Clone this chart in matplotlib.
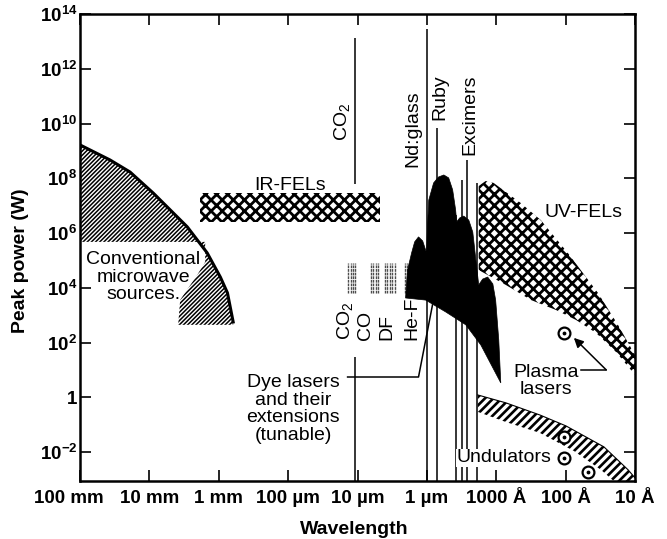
import numpy as np
import matplotlib
matplotlib.use("Agg")
import matplotlib.pyplot as plt
import matplotlib.transforms as mtransforms

plt.rcParams['font.family'] = ['Liberation Sans', 'DejaVu Sans']
plt.rcParams['mathtext.fontset'] = 'custom'
plt.rcParams['mathtext.rm'] = 'Liberation Sans'
plt.rcParams['mathtext.bf'] = 'Liberation Sans:bold'
plt.rcParams['hatch.color'] = 'black'

# axes
wl_ticks = [1e-1, 1e-2, 1e-3, 1e-4, 1e-5, 1e-6, 1e-7, 1e-8, 1e-9]
wl_labels = ['100 mm', '10 mm', '1 mm', '100 \u00b5m', '10 \u00b5m', '1 \u00b5m',
             '1000 \u00c5', '100 \u00c5', '10 \u00c5']
p_ticks = [1e-2, 1, 1e2, 1e4, 1e6, 1e8, 1e10, 1e12, 1e14]
p_labels = [r'$\mathbf{10^{-2}}$', '1', r'$\mathbf{10^{2}}$', r'$\mathbf{10^{4}}$',
            r'$\mathbf{10^{6}}$', r'$\mathbf{10^{8}}$', r'$\mathbf{10^{10}}$',
            r'$\mathbf{10^{12}}$', r'$\mathbf{10^{14}}$']
wl_lim = (1e-1, 1e-9)
p_lim = (8.7e-4, 1e14)

# conventional microwave sources (wavelength m, power W)
mw_curve_wl = [1e-1, 3.7e-2, 1.9e-2, 8.8e-3, 2.85e-3, 1.47e-3, 9.5e-4, 7.5e-4, 6.2e-4]
mw_curve_p = [1.66e9, 4.7e8, 1.7e8, 2.9e7, 1.7e6, 1.9e5, 2.5e4, 6.6e3, 5.7e2]
mw_inner_wl = [6.2e-4, 3.85e-3, 3.6e-3, 2.04e-3, 1.57e-3, 1.57e-3, 1e-1]
mw_inner_p = [4.5e2, 4.5e2, 3.65e3, 3.0e4, 8.9e4, 4.8e5, 4.8e5]

# IR free electron lasers
ir_wl = [1.85e-3, 4.8e-6]
ir_p = [2.6e6, 2.9e7]

# dye lasers envelope
dye_wl = [2.03e-6, 1.90e-6, 1.66e-6, 1.50e-6, 1.32e-6, 1.15e-6, 1.01e-6, 9.8e-7,
          9.4e-7, 8.0e-7, 6.8e-7, 5.7e-7, 4.85e-7, 4.25e-7, 3.85e-7, 3.72e-7,
          3.36e-7, 2.94e-7, 2.49e-7, 2.18e-7, 1.98e-7, 1.79e-7, 1.57e-7, 1.33e-7,
          1.12e-7, 1.02e-7, 9.2e-8, 8.6e-8, 1.67e-7, 2.75e-7, 5.36e-7, 1.04e-6]
dye_p = [4.3e3, 4.5e4, 1.9e5, 4.8e5, 7.3e5, 5.2e5, 1.9e5, 1.7e6,
         1.6e7, 6.8e7, 1.12e8, 1.33e8, 1.04e8, 3.8e7, 7.0e6, 2.6e6,
         3.6e6, 4.2e6, 3.0e6, 1.1e6, 1.24e5, 1.29e4, 2.1e4, 2.5e4,
         1.4e4, 3.6e3, 1.26e2, 3.4, 83, 4.5e2, 1.33e3, 3.6e3]

# UV free electron lasers
uv_wl = [1.79e-7, 1.42e-7, 1.09e-7, 7.3e-8, 4.43e-8, 2.28e-8, 9.3e-9, 3.42e-9, 1.76e-9,
         1e-9, 1e-9, 1.88e-9, 3.66e-9, 7.1e-9, 1.38e-8, 3.18e-8, 7.3e-8, 1.79e-7]
uv_p = [5.3e7, 8.0e7, 6.8e7, 3.2e7, 1.26e7, 3.0e6, 1.9e5, 6.6e3, 4.5e2,
        36, 6.7, 46, 2.3e2, 6.8e2, 1.57e3, 3.65e3, 1.29e4, 4.5e4]

# undulators
und_wl = [1.85e-7, 7.3e-8, 2.35e-8, 9.9e-9, 2.8e-9, 1.26e-9, 1e-9,
          1e-9, 2.0e-9, 3.1e-9, 7.6e-9, 2.35e-8, 7.3e-8, 1.85e-7]
und_p = [1.24, 0.64, 0.23, 0.092, 0.0157, 2.3e-3, 1.16e-3,
         8.7e-4, 8.7e-4, 2.3e-3, 0.0112, 0.051, 0.128, 0.30]

# plasma lasers (circled points)
plasma_wl = [1.06e-8, 1.06e-8, 1.06e-8, 4.8e-9]
plasma_p = [230, 0.036, 6.3e-3, 1.9e-3]

# single line lasers: wavelength, top of line
line_wl = [9.8e-7, 7.2e-7, 3.85e-7, 3.15e-7, 2.67e-7, 1.91e-7]
line_top = [2.8e13, 6.9e9, 4.6e6, 8.7e7, 4.7e8, 6.8e7]
co2_wl = 1.07e-5
co2_upper = (6.3e7, 1.33e13)
co2_lower_top = 30

# molecular gas laser line groups (CO2, CO, DF, HF)
gas_wl = [1.35e-5, 1.26e-5, 1.18e-5, 1.10e-5,
          6.3e-6, 5.9e-6, 5.5e-6, 5.1e-6,
          4.07e-6, 3.81e-6, 3.45e-6, 3.23e-6, 2.92e-6,
          2.09e-6, 1.96e-6, 1.84e-6]
gas_p = (6.6e3, 8.2e4)
gas_names = ['CO$_2$', 'CO', 'DF', 'He-F']
gas_label_wl = [1.49e-5, 7.7e-6, 3.81e-6, 1.66e-6]


def hatched(ax, xs, ys, hatch, hlw, z=2):
    patch = ax.fill(xs, ys, facecolor='white', edgecolor='black', linewidth=0,
                    hatch=hatch, zorder=z)[0]
    if hasattr(patch, 'set_hatch_linewidth'):
        patch.set_hatch_linewidth(hlw)
    return patch


fig, ax = plt.subplots(figsize=(6.67, 5.39), dpi=100)
fig.subplots_adjust(left=0.12, right=0.952, top=0.974, bottom=0.107)

ax.set_xscale('log')
ax.set_yscale('log')
ax.set_xlim(wl_lim)
ax.set_ylim(p_lim)

# microwave sources
hatched(ax, mw_curve_wl + mw_inner_wl, mw_curve_p + mw_inner_p, '////////', 1.1)
ax.plot(mw_curve_wl, mw_curve_p, color='black', lw=2.2, zorder=3)

# IR-FELs
hatched(ax, [ir_wl[0], ir_wl[1], ir_wl[1], ir_wl[0]],
        [ir_p[0], ir_p[0], ir_p[1], ir_p[1]], 'xxx', 2.0)

# UV-FELs
hatched(ax, uv_wl, uv_p, 'xxx', 2.0)

# undulators
hatched(ax, und_wl, und_p, '////', 1.9)
ax.plot(und_wl[:7], und_p[:7], color='black', lw=0.8, zorder=3)

# vertical laser lines
ax.vlines(line_wl, p_lim[0], line_top, color='black', lw=1.1, zorder=3)
ax.vlines(co2_wl, co2_upper[0], co2_upper[1], color='black', lw=1.1, zorder=3)
ax.vlines(co2_wl, p_lim[0], co2_lower_top, color='black', lw=1.1, zorder=3)
ax.vlines(gas_wl, gas_p[0], gas_p[1], color='0.3', lw=1.0, linestyles=(0, (2, 0.6)), zorder=3)

# dye lasers
ax.fill(dye_wl, dye_p, color='black', lw=0.5, zorder=4)

# plasma lasers
ax.plot(plasma_wl, plasma_p, 'o', ms=8.5, mfc='white', mec='black', mew=1.6, zorder=6)
ax.plot(plasma_wl, plasma_p, '.', ms=3.5, color='black', zorder=7)

fs = 14
txt = dict(fontsize=fs, color='black')
ax.text(1.65e-5, 2.3e9, 'CO$_2$', rotation=90, ha='center', va='bottom', **txt)
ax.text(1.61e-6, 2.6e8, 'Nd:glass', rotation=90, ha='center', va='bottom', **txt)
ax.text(6.5e-7, 1.35e10, 'Ruby', rotation=90, ha='center', va='bottom', **txt)
ax.text(2.4e-7, 7.1e8, 'Excimers', rotation=90, ha='center', va='bottom', **txt)
for name, x in zip(gas_names, gas_label_wl):
    ax.text(x, 126, name, rotation=90, ha='center', va='bottom', **txt)
ax.text(9.3e-5, 5.7e7, 'IR-FELs', ha='center', va='center', **txt)
ax.text(5.5e-9, 5.9e6, 'UV-FELs', ha='center', va='center', **txt)
ax.text(1.23e-2, 2.5e4, 'Conventional\nmicrowave\nsources.', ha='center', va='center',
        linespacing=1.05, **txt)
ax.text(8.4e-5, 0.38, 'Dye lasers\nand their\nextensions\n(tunable)', ha='center',
        va='center', linespacing=1.05, **txt)
ax.text(1.93e-8, 4.0, 'Plasma\nlasers', ha='center', va='center', linespacing=1.05, **txt)
ax.text(7.8e-8, 6.3e-3, 'Undulators', ha='center', va='center', zorder=5,
        bbox=dict(facecolor='white', edgecolor='none', pad=0.3), **txt)

# leader lines
ax.plot([1.39e-5, 1.32e-6, 8.3e-7], [5.6, 5.6, 2.4e3], color='black', lw=1.1, zorder=3)
ax.plot([6.0e-9, 2.6e-9], [10.2, 10.2], color='black', lw=1.1, zorder=3)
ax.annotate('', xy=(7.6e-9, 150), xytext=(2.6e-9, 10.2),
            arrowprops=dict(arrowstyle='-|>', color='black', lw=1.1,
                            mutation_scale=14, shrinkA=0, shrinkB=0), zorder=6)

ax.set_xticks(wl_ticks)
ax.set_xticklabels(wl_labels, fontweight='bold')
ax.set_yticks(p_ticks)
ax.set_yticklabels(p_labels, fontweight='bold')
ax.minorticks_off()
ax.tick_params(direction='in', length=8, width=1.2, top=True, right=True,
               labelsize=13.5)
ax.tick_params(axis='x', pad=6)
ax.tick_params(axis='y', pad=2)
for s in ax.spines.values():
    s.set_linewidth(1.8)

# first wavelength label sits a little left of its tick
first = ax.xaxis.get_major_ticks()[0].label1
first.set_transform(first.get_transform() +
                    mtransforms.ScaledTranslation(-8 / 72, 0, fig.dpi_scale_trans))

ax.set_xlabel('Wavelength', fontsize=14, fontweight='bold')
ax.set_ylabel('Peak power (W)', fontsize=14, fontweight='bold')
ax.xaxis.set_label_coords(0.495, -0.085)
ax.yaxis.set_label_coords(-0.092, 0.473)

fig.savefig('out.png', dpi=100)
